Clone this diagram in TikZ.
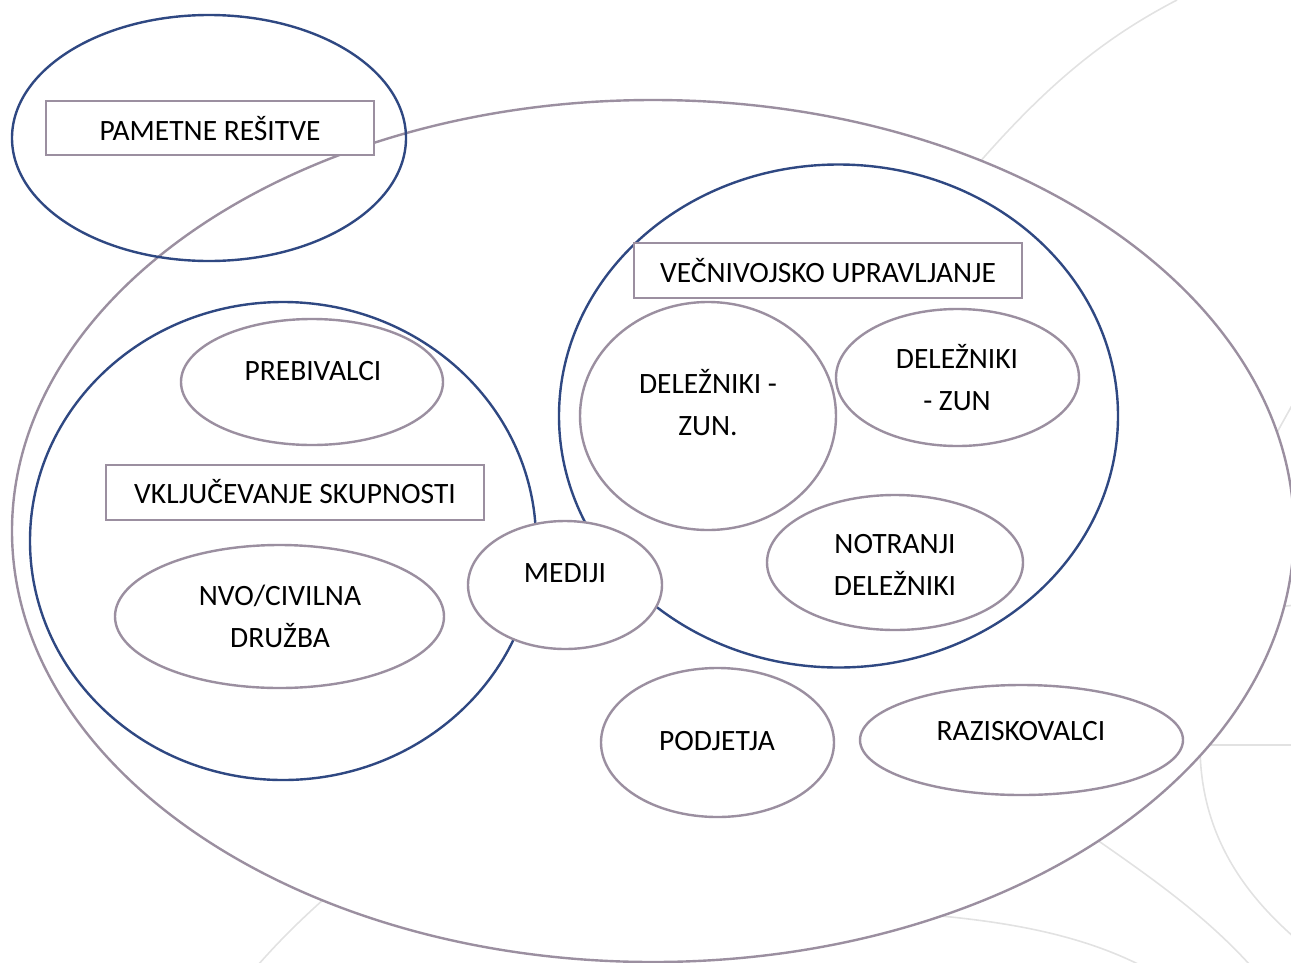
\documentclass[tikz,border=0pt]{standalone}
\usepackage{fontspec}
\setmainfont{Carlito}
\usetikzlibrary{shapes.geometric}

\definecolor{ringgray}{HTML}{9B8FA0}
\definecolor{ringblue}{HTML}{2F4882}
\definecolor{backline}{HTML}{E2E2E2}

\tikzset{
  oval/.style={ellipse, draw=ringgray, line width=2.4pt, fill=white, inner sep=0pt},
  ring/.style={ellipse, draw=ringblue, line width=2.4pt, inner sep=0pt},
  titlebox/.style={rectangle, draw=ringgray, line width=2.4pt, fill=white, inner sep=0pt},
  label/.style={anchor=base, inner sep=0pt, align=center, font=\fontsize{29.5}{41.5}\selectfont},
  decor/.style={draw=backline, line width=1.6pt}
}

\begin{document}
\begin{tikzpicture}[x=1pt, y=-1pt]
\useasboundingbox (0,0) rectangle (1291,962);

% faint decorative arcs in the background
\coordinate (a1) at (960,185);  \coordinate (a2) at (1177,0);
\draw[decor] (a1) .. controls (1040,90) and (1100,40) .. (a2);
\coordinate (b1) at (1270,445); \coordinate (b2) at (1295,400);
\draw[decor] (b1) -- (b2);
\coordinate (b3) at (1270,608); \coordinate (b4) at (1295,605);
\draw[decor] (b3) -- (b4);
\coordinate (c1) at (1190,745); \coordinate (c2) at (1295,745);
\draw[decor] (c1) -- (c2);
\coordinate (d1) at (1200,745); \coordinate (d2) at (1295,938);
\draw[decor] (d1) .. controls (1200,830) and (1240,890) .. (d2);
\coordinate (e1) at (1080,828); \coordinate (e2) at (1250,965);
\draw[decor] (e1) .. controls (1140,870) and (1200,910) .. (e2);
\coordinate (f1) at (930,915);  \coordinate (f2) at (1140,965);
\draw[decor] (f1) .. controls (1010,922) and (1080,935) .. (f2);
\coordinate (g1) at (340,885);  \coordinate (g2) at (258,965);
\draw[decor] (g1) .. controls (305,915) and (280,940) .. (g2);

% the large enclosing ellipse
\node[oval, minimum width=1282pt, minimum height=862pt] (world) at (653,531) {};

% smart solutions
\node[ring, minimum width=394pt, minimum height=246pt] (smart) at (209,138) {};
\node[titlebox, minimum width=328pt, minimum height=54pt] (smartbox) at (210,128) {};
\node[label] (smarttxt) at (210,140) {PAMETNE REŠITVE};

% community involvement
\node[ring, minimum width=506pt, minimum height=478pt] (community) at (283,541) {};
\node[oval, minimum width=262pt, minimum height=126pt] (residents) at (312,382) {};
\node[label] (residentstxt) at (313,380) {PREBIVALCI};
\node[titlebox, minimum width=378pt, minimum height=55pt] (communitybox) at (295,492.5) {};
\node[label] (communitytxt) at (295,503) {VKLJUČEVANJE SKUPNOSTI};
\node[oval, minimum width=329pt, minimum height=143pt] (ngo) at (279.5,616.5) {};
\node[label] (ngotxt) at (280,647) {NVO/CIVILNA\\DRUŽBA};

% multilevel governance
\node[ring, minimum width=559pt, minimum height=503pt] (governance) at (838.5,416) {};
\node[titlebox, minimum width=388pt, minimum height=55pt] (governancebox) at (828,270.5) {};
\node[label] (governancetxt) at (828,282) {VEČNIVOJSKO UPRAVLJANJE};
\node[oval, minimum width=256pt, minimum height=228pt] (extA) at (708,416) {};
\node[label] (extAtxt) at (708,435) {DELEŽNIKI -\\ZUN.};
\node[oval, minimum width=243pt, minimum height=137pt] (extB) at (957.5,377.5) {};
\node[label] (extBtxt) at (957,410) {DELEŽNIKI\\- ZUN};
\node[oval, minimum width=256pt, minimum height=135pt] (internal) at (895,562.5) {};
\node[label] (internaltxt) at (895,595) {NOTRANJI\\DELEŽNIKI};

% media, between both groups
\node[oval, minimum width=194pt, minimum height=128pt] (media) at (565,585) {};
\node[label] (mediatxt) at (565,582) {MEDIJI};

% companies and researchers
\node[oval, minimum width=233pt, minimum height=149pt] (companies) at (717.5,742.5) {};
\node[label] (companiestxt) at (717,750) {PODJETJA};
\node[oval, minimum width=323pt, minimum height=110pt] (research) at (1021.5,740) {};
\node[label] (researchtxt) at (1021,740) {RAZISKOVALCI};
\end{tikzpicture}
\end{document}
